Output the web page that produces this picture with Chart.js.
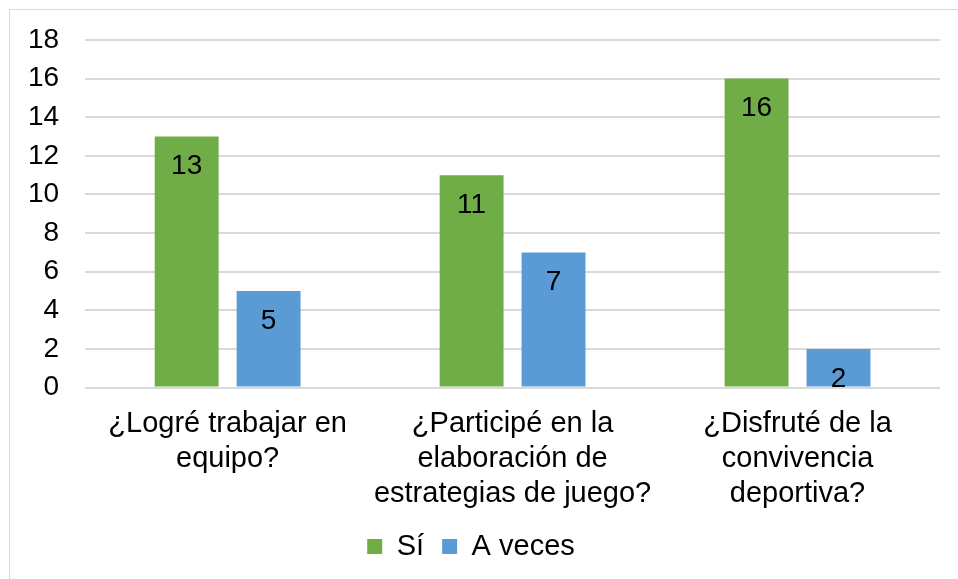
<!DOCTYPE html>
<html>
<head>
<meta charset="utf-8">
<script src="https://cdn.jsdelivr.net/npm/chart.js@4"></script>
<style>
  html, body { margin: 0; padding: 0; background: #fff; }
  #wrap { position: relative; width: 958px; height: 579px; }
  #frame { position: absolute; left: 9px; top: 9px; width: 960px; height: 580px; border: 1px solid #d9d9d9; box-sizing: border-box; }
</style>
</head>
<body>
<div id="wrap">
  <div id="frame"></div>
  <canvas id="chart" width="958" height="579"></canvas>
</div>
<script>
// Chart data
const categories = [
  ["¿Logré trabajar en", "equipo?"],
  ["¿Participé en la", "elaboración de", "estrategias de juego?"],
  ["¿Disfruté de la", "convivencia", "deportiva?"],
];
const siValues = [13, 11, 16];
const aVecesValues = [5, 7, 2];
const yTicks = [0, 2, 4, 6, 8, 10, 12, 14, 16, 18];

const fontFamily = "'Liberation Sans', Arial, sans-serif";

// Draw value labels inside the top of each bar
const barLabels = {
  id: "barLabels",
  afterDatasetsDraw(chart) {
    const ctx = chart.ctx;
    ctx.save();
    ctx.font = "28px " + fontFamily;
    ctx.fillStyle = "#000";
    ctx.textAlign = "center";
    ctx.textBaseline = "middle";
    chart.data.datasets.forEach((ds, i) => {
      chart.getDatasetMeta(i).data.forEach((bar, j) => {
        ctx.fillText(String(ds.data[j]), bar.x, bar.y + 30);
      });
    });
    ctx.restore();
  },
};

new Chart(document.getElementById("chart"), {
  type: "bar",
  data: {
    labels: categories,
    datasets: [
      {
        label: "Sí",
        data: siValues,
        backgroundColor: "#70AD47",
        categoryPercentage: 0.575,
        barPercentage: 0.78,
      },
      {
        label: "A veces",
        data: aVecesValues,
        backgroundColor: "#5B9BD5",
        categoryPercentage: 0.575,
        barPercentage: 0.78,
      },
    ],
  },
  options: {
    responsive: false,
    animation: false,
    layout: { padding: { left: 2, right: 18, top: 9, bottom: 8 } },
    plugins: {
      tooltip: { enabled: false },
      legend: {
        position: "bottom",
        labels: {
          boxWidth: 15,
          boxHeight: 15,
          padding: 18,
          color: "#000",
          font: { size: 29, family: fontFamily },
        },
      },
    },
    scales: {
      x: {
        grid: { display: false },
        border: { display: false },
        afterFit: (axis) => {
          axis.height = axis.height - 8;
        },
        ticks: {
          color: "#000",
          padding: 11,
          maxRotation: 0,
          font: { size: 29, family: fontFamily, lineHeight: 1.2 },
        },
      },
      y: {
        min: 0,
        max: 18,
        afterBuildTicks: (axis) => {
          axis.ticks = yTicks.map((v) => ({ value: v }));
        },
        grid: { color: "#d9d9d9", lineWidth: 2, drawTicks: false },
        border: { display: false },
        ticks: {
          color: "#000",
          padding: 26,
          font: { size: 28, family: fontFamily, lineHeight: 1.0 },
        },
      },
    },
  },
  plugins: [barLabels],
});
</script>
</body>
</html>
